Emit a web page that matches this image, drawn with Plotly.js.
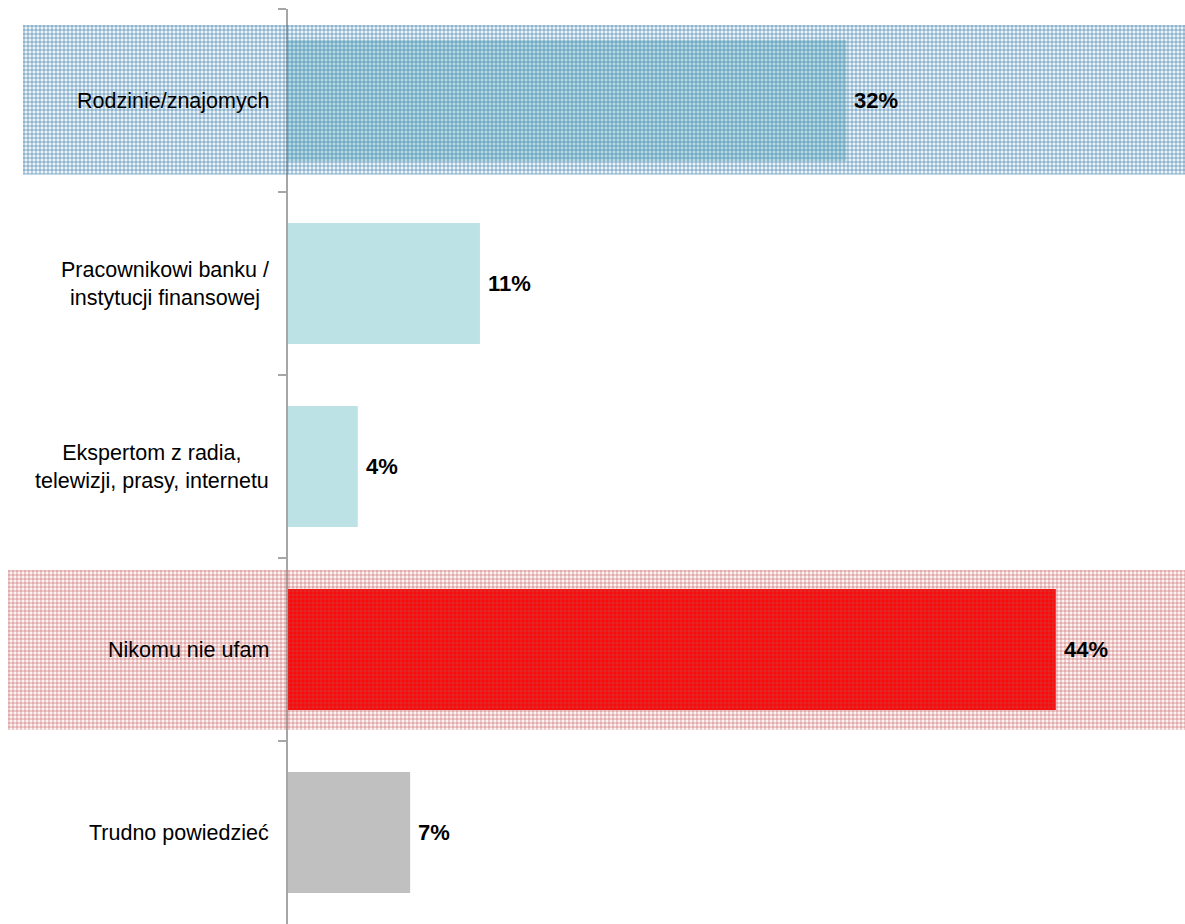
<!DOCTYPE html>
<html>
<head>
<meta charset="utf-8">
<script src="https://cdn.plot.ly/plotly-3.0.1.min.js"></script>
<style>html,body{margin:0;padding:0;background:#fff;}#chart{width:1185px;height:924px;}</style>
</head>
<body>
<div id="chart"></div>
<script>
// ---- data ----
const categories = ["Rodzinie/znajomych", "Pracownikowi banku /<br>instytucji finansowej", "Ekspertom z radia,<br>telewizji, prasy, internetu", "Nikomu nie ufam", "Trudno powiedzieć"];
const values = [32, 11, 4, 44, 7];
const valueLabels = ["32%", "11%", "4%", "44%", "7%"];
const barColors = ["#bde2e5", "#bde2e5", "#bde2e5", "#ff0000", "#c0c0c0"];

// ---- layout geometry ----
const FW = 1185, FH = 924;
const L = 288, R = 0, T = 9, B = 0;
const W = FW - L - R, H = FH - T - B;
const px = p => (p - L) / W;
const py = p => 1 - (p - T) / H;

function gridPath(x0, x1, y0, y1, step) {
  let d = "";
  for (let x = x0 + 1; x <= x1; x += step) d += `M${px(x).toFixed(5)},${py(y0).toFixed(5)}V${py(y1).toFixed(5)}`;
  for (let y = y0 + 1; y <= y1; y += step) d += `M${px(x0).toFixed(5)},${py(y).toFixed(5)}H${px(x1).toFixed(5)}`;
  return d;
}

function band(x0, x1, y0, y1, fill, lineCol) {
  return [
    {type: "rect", xref: "paper", yref: "paper", x0: px(x0), x1: px(x1), y0: py(y1), y1: py(y0),
     fillcolor: fill, line: {width: 0}, layer: "above"},
    {type: "path", xref: "paper", yref: "paper", path: gridPath(x0, x1, y0, y1, 4),
     line: {color: lineCol, width: 1}, layer: "above"}
  ];
}

const shapes = [
  ...band(23, 1185, 25, 174, "rgba(110,165,200,0.12)", "rgba(55,120,170,0.60)"),
  ...band(8, 1185, 570, 730, "rgba(220,120,120,0.08)", "rgba(195,80,80,0.50)")
];

const annotations = [];
categories.forEach((c, i) => {
  annotations.push({xref: "paper", yref: "y", x: 0, y: c, xanchor: "right", yanchor: "middle", xshift: -17,
    text: c, showarrow: false, align: "center",
    font: {family: "Liberation Sans, Arial, sans-serif", size: 21.5, color: "#000"}});
  annotations.push({xref: "x", yref: "y", x: values[i], y: c, xanchor: "left", yanchor: "middle", xshift: 6,
    text: "<b>" + valueLabels[i] + "</b>", showarrow: false,
    font: {family: "Liberation Sans, Arial, sans-serif", size: 22, color: "#000"}});
});

const trace = {
  type: "bar", orientation: "h", x: values, y: categories,
  marker: {color: barColors, line: {width: 0}}, width: 0.66, hoverinfo: "none"
};

const layout = {
  width: FW, height: FH,
  margin: {l: L, r: R, t: T, b: B, pad: 0},
  paper_bgcolor: "#fff", plot_bgcolor: "rgba(0,0,0,0)",
  showlegend: false,
  xaxis: {range: [0, W / 17.45], visible: false, fixedrange: true},
  yaxis: {type: "category", autorange: "reversed", showticklabels: false, showgrid: false, zeroline: false,
    showline: true, linecolor: "#a6a6a6", linewidth: 2,
    ticks: "outside", tickson: "boundaries", ticklen: 8, tickwidth: 2, tickcolor: "#a6a6a6", fixedrange: true},
  shapes: shapes,
  annotations: annotations
};

Plotly.newPlot("chart", [trace], layout, {staticPlot: true, displayModeBar: false});
</script>
</body>
</html>
